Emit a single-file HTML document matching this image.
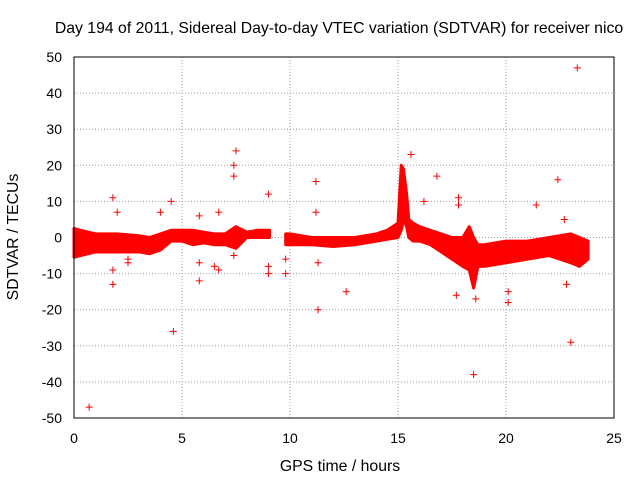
<!DOCTYPE html>
<html><head><meta charset="utf-8"><style>
body{margin:0;background:#fff}
svg text{font-family:"Liberation Sans",sans-serif;font-size:14px;fill:#000}
svg text.big{font-size:15.8px}
</style></head><body>
<svg id="c" width="640" height="480">
<rect width="640" height="480" fill="#fff"/>
<text class="big" x="339" y="33" text-anchor="middle">Day 194 of 2011, Sidereal Day-to-day VTEC variation (SDTVAR) for receiver nico</text>
<text class="big" x="340" y="471" text-anchor="middle">GPS time / hours</text>
<text class="big" transform="translate(18,237) rotate(-90)" text-anchor="middle">SDTVAR / TECUs</text>
<g id="grid"></g><g id="marks"></g>
<rect x="74" y="57" width="540" height="361" fill="none" stroke="#000"/>
</svg>
<script>
const xTicks=[0,5,10,15,20,25];
const yTicks=[-50,-40,-30,-20,-10,0,10,20,30,40,50];
const bandAT=[0,0.3,1,2,3,3.5,4,4.5,5,5.5,6,6.5,7,7.5,8,8.5,9.05];
const bandALo=[-5.5,-5,-4,-4,-4,-4.5,-3.5,-1,-1,-2,-1.5,-2,-2,-3,0,0,0];
const bandAHi=[2.5,2,1,1,0.5,0,1,2,2,2,1.5,1,1,3,1.5,2,2];
const bandBT=[9.8,10,11,12,13,14,14.5,15,15.15,15.25,15.4,15.5,15.7,16,16.5,17,17.5,18,18.3,18.5,18.7,19,20,21,22,23,23.4,23.8];
const bandBLo=[-2,-2,-2,-2.5,-2,-1,-0.5,0,2,5,3,0,-1,-1,-2,-4,-6,-8,-9,-14,-8,-8,-7,-6,-5,-7,-8,-6];
const bandBHi=[1,1,0,0,0,1,2,4,20,19,12,5,4,3,2,1,0,0,3,0,-2,-2,-1,-1,0,1,0,-1];
const outT=[0.7,1.8,1.8,1.8,2,2.5,2.5,4,4.5,4.6,5.8,5.8,5.8,6.5,6.7,6.7,7.5,7.4,7.4,7.4,9,9,9,9.8,9.8,11.2,11.2,11.3,11.3,12.6,15.6,16.2,16.8,17.7,17.8,17.8,18.5,18.6,20.1,20.1,21.4,22.4,22.7,23,23.3,22.8];
const outV=[-47,11,-13,-9,7,-7,-6,7,10,-26,6,-12,-7,-8,7,-9,24,20,17,-5,12,-8,-10,-6,-10,15.5,7,-7,-20,-15,23,10,17,-16,11,9,-38,-17,-18,-15,9,16,5,-29,47,-13];
const X=t=>74+t*21.6, Y=v=>237.5-v*3.61;
const NS='http://www.w3.org/2000/svg';
const svg=document.getElementById('c'),grid=document.getElementById('grid'),marks=document.getElementById('marks');
function mk(tag,attrs,parent){const e=document.createElementNS(NS,tag);for(const k in attrs)e.setAttribute(k,attrs[k]);parent.appendChild(e);return e;}
xTicks.forEach(t=>{
  if(t>0&&t<25){const g=mk('line',{x1:X(t),x2:X(t),y1:57,y2:418,stroke:'#a0a0a0','stroke-dasharray':'1,2'},grid);
  
  }
  const l=mk('text',{x:X(t),y:443,'text-anchor':'middle'},svg);l.textContent=t;
  
  
});
yTicks.forEach(v=>{
  if(v>-50&&v<50){const g=mk('line',{x1:74,x2:614,y1:Y(v),y2:Y(v),stroke:'#a0a0a0','stroke-dasharray':'1,2'},grid);
  
  }
  const l=mk('text',{x:62,y:Y(v)+5,'text-anchor':'end'},svg);l.textContent=v;
  
  
});
function band(T,Lo,Hi,name){
  let p=T.map((t,i)=>X(t)+','+Y(Hi[i]));
  for(let i=T.length-1;i>=0;i--)p.push(X(T[i])+','+Y(Lo[i]));
  const e=mk('polygon',{points:p.join(' '),fill:'#ff0000',stroke:'#ff0000','stroke-width':3,'stroke-linejoin':'round'},marks);
  
  
}
band(bandAT,bandALo,bandAHi,'sdtvar-band-early');
band(bandBT,bandBLo,bandBHi,'sdtvar-band-late');
outT.forEach((t,i)=>{
  const x=X(t),y=Y(outV[i]);
  const e=mk('path',{d:`M${x-3.5},${y}H${x+3.5}M${x},${y-3.5}V${y+3.5}`,stroke:'#ff0000','stroke-width':1},marks);
  
  
});
</script>
</body></html>
